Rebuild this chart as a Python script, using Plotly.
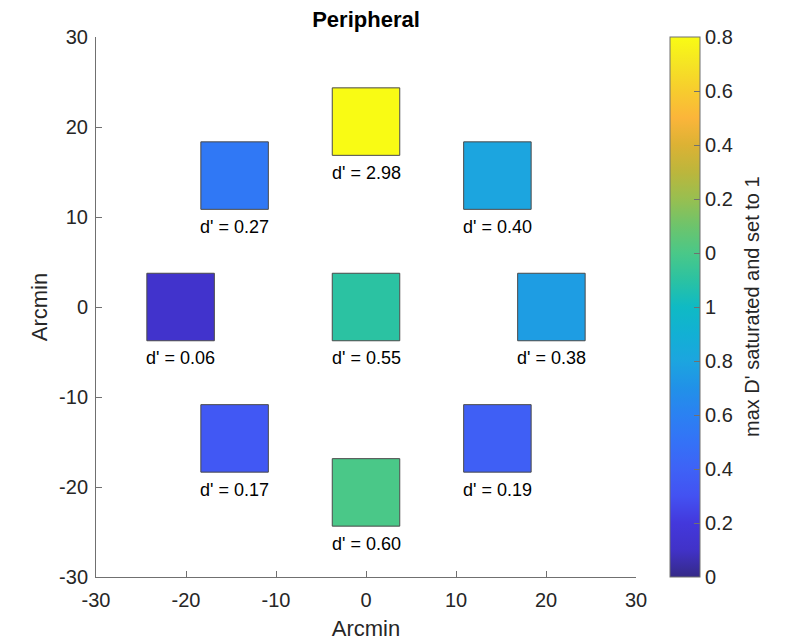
import plotly.graph_objects as go
from plotly.colors import sample_colorscale

# ---- data ----
x_pos = [0.0, -14.6, 14.6, -20.6, 0.0, 20.6, -14.6, 14.6, 0.0]
y_pos = [20.6, 14.6, 14.6, 0.0, 0.0, 0.0, -14.6, -14.6, -20.6]
d_prime = [2.98, 0.27, 0.40, 0.06, 0.55, 0.38, 0.17, 0.19, 0.60]
square_side = 7.5
axis_ticks = [-30, -20, -10, 0, 10, 20, 30]
axis_ticktext = ["-30", "-20", "-10", "0", "10", "20", "30"]
cbar_tickvals = [0.0, 0.1, 0.2, 0.3, 0.4, 0.5, 0.6, 0.7, 0.8, 0.9, 1.0]
cbar_ticktext = ["0", "0.2", "0.4", "0.6", "0.8", "1", "0", "0.2", "0.4", "0.6", "0.8"]

parula = [
    [0.00, "#352a87"], [0.05, "#4132c8"], [0.10, "#4338dc"], [0.15, "#4352f2"],
    [0.20, "#3e62f6"], [0.25, "#3472f7"], [0.30, "#2b81f2"], [0.35, "#2191e8"],
    [0.40, "#1ca5df"], [0.45, "#12b0d4"], [0.50, "#0fbac4"], [0.55, "#2bc2a2"],
    [0.60, "#4ac888"], [0.65, "#6dc46c"], [0.70, "#98bf50"], [0.75, "#bcb63c"],
    [0.80, "#dcb234"], [0.85, "#fbb53a"], [0.90, "#f7cc2e"], [0.95, "#f5e424"],
    [1.00, "#f9fb14"],
]

FONT = "Liberation Sans, Arial, Helvetica, sans-serif"
TXT = "#262626"
AX = "#707070"

# page body adds an 8px offset; plot area is 540x540 at (96,37) in the window
L, T, PW, PH = 88, 29, 540, 540
W, H = 785, 644

clipped = [min(max(v, 0.0), 1.0) for v in d_prime]
fills = sample_colorscale(parula, clipped)

fig = go.Figure()

fig.add_trace(go.Scatter(
    x=x_pos, y=y_pos, mode="markers", hoverinfo="skip",
    marker=dict(size=1, opacity=0, color=clipped, colorscale=parula, cmin=0, cmax=1,
                showscale=True,
                colorbar=dict(
                    x=(670 - 96) / 540, xanchor="left", xpad=0,
                    y=0.5, yanchor="middle", ypad=0, len=1, lenmode="fraction",
                    thickness=30, outlinecolor=AX, outlinewidth=1,
                    ticks="inside", ticklen=6, tickcolor=AX,
                    tickvals=cbar_tickvals, ticktext=cbar_ticktext,
                    tickfont=dict(size=20, color=TXT, family=FONT),
                )),
))

half = square_side / 2
for xc, yc, col, v in zip(x_pos, y_pos, fills, d_prime):
    fig.add_shape(type="rect", xref="x", yref="y",
                  x0=xc - half, x1=xc + half, y0=yc - half, y1=yc + half,
                  fillcolor=col, line=dict(color="#4a4a4a", width=1), layer="above")
    fig.add_annotation(x=xc, y=yc - 5.7, xref="x", yref="y", text=f"d' = {v:.2f}",
                       showarrow=False, xanchor="center", yanchor="middle",
                       font=dict(size=18, color="#000000", family=FONT))

fig.add_annotation(x=(752 - 96) / 540, y=0.5, xref="paper", yref="paper",
                   text="max D' saturated and set to 1", textangle=-90,
                   showarrow=False, xanchor="center", yanchor="middle",
                   font=dict(size=20, color=TXT, family=FONT))

axis_common = dict(
    range=[-30, 30], tickvals=axis_ticks, ticktext=axis_ticktext,
    ticks="inside", ticklen=6, tickcolor=AX,
    showline=True, linecolor=AX, linewidth=1, mirror=False, showgrid=False,
    zeroline=False, tickfont=dict(size=20, color=TXT, family=FONT),
)

fig.update_layout(
    width=W, height=H,
    margin=dict(l=L, r=W - L - PW, t=T, b=H - T - PH),
    plot_bgcolor="white", paper_bgcolor="white",
    showlegend=False,
    font=dict(family=FONT, color=TXT),
    title=dict(text="<b>Peripheral</b>", x=(366 - 8) / W, xanchor="center",
               y=1 - (19 - 8) / H, yanchor="middle", yref="container",
               font=dict(size=22, color="#000000", family=FONT)),
    xaxis=dict(**axis_common, ticklabelstandoff=5,
               title=dict(text="Arcmin", standoff=10,
                          font=dict(size=22, color=TXT, family=FONT))),
    yaxis=dict(**axis_common, ticklabelstandoff=3,
               title=dict(text="Arcmin", standoff=5,
                          font=dict(size=22, color=TXT, family=FONT))),
)

fig.write_html("out.html")
